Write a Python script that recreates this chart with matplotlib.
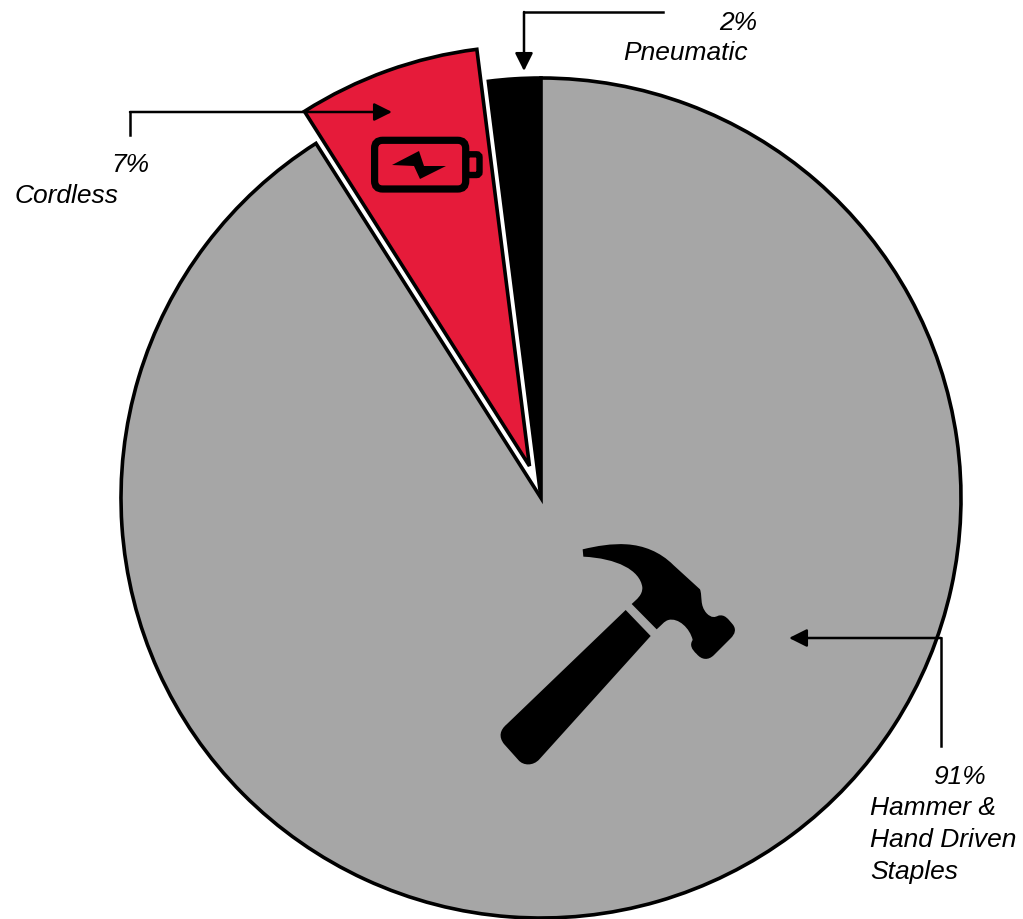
import matplotlib
matplotlib.use("Agg")
import matplotlib.pyplot as plt
from matplotlib.path import Path
from matplotlib.patches import PathPatch, FancyBboxPatch, Polygon

labels = ["Pneumatic", "Cordless", "Hammer & Hand Driven Staples"]
values = [2, 7, 91]
colors = ["#000000", "#E61B3A", "#A6A6A6"]
explode = [0, 34, 0]

W, H = 1023, 919
def Y(y):
    return H - y

fig = plt.figure(figsize=(W / 100, H / 100), dpi=100)
ax = fig.add_axes([0, 0, 1, 1])
ax.pie(values, colors=colors, explode=explode, startangle=90, counterclock=True,
       center=(541, Y(498)), radius=420,
       wedgeprops=dict(edgecolor="black", linewidth=2.6, joinstyle="miter"))
ax.set_xlim(0, W)
ax.set_ylim(0, H)
ax.set_aspect("equal")
ax.axis("off")

# leader lines with arrowheads
def leader(points):
    xs = [p[0] for p in points[:-1]]
    ys = [Y(p[1]) for p in points[:-1]]
    ax.plot(xs, ys, color="black", lw=1.8, solid_joinstyle="miter", zorder=5)
    ax.annotate("", xy=(points[-1][0], Y(points[-1][1])),
                xytext=(points[-2][0], Y(points[-2][1])),
                arrowprops=dict(arrowstyle="-|>,head_length=1.08,head_width=0.54",
                                mutation_scale=10, color="black", lw=1.8,
                                shrinkA=0, shrinkB=0), zorder=5)

leader([(663, 12), (524, 12), (524, 71)])
leader([(130, 135), (130, 112), (392, 112)])
leader([(941, 746), (941, 638), (789, 638)])

# labels
font = dict(family="Liberation Sans", style="italic", size=19, color="black",
            va="baseline", ha="left", zorder=6)
ax.text(719, Y(30), "2%", **font)
ax.text(623, Y(60), "Pneumatic", **font)
ax.text(111, Y(172), "7%", **font)
ax.text(15, Y(203), "Cordless", **font)
ax.text(933, Y(784), "91%", **font)
ax.text(870, Y(815), "Hammer &", **font)
ax.text(870, Y(847), "Hand Driven", **font)
ax.text(870, Y(879), "Staples", **font)

# battery icon
ax.add_patch(FancyBboxPatch((374.6, Y(189)), 91.1, 48.7, boxstyle="round,pad=0,rounding_size=8",
                            fc="none", ec="black", lw=5.2, zorder=5))
ax.add_patch(FancyBboxPatch((466, Y(175)), 13.5, 20.7, boxstyle="round,pad=0,rounding_size=3",
                            fc="none", ec="black", lw=4.6, zorder=5))
bolt = [(392, 165), (419, 151), (424, 166), (446, 166), (420, 179), (414, 166)]
ax.add_patch(Polygon([(x, Y(y)) for x, y in bolt], closed=True, fc="black", ec="none", zorder=5))

# hammer icon (outline traced in zoom-crop coordinates)
def Z(zx, zy):
    return (480 + zx / 3, Y(530 + zy / 3))

def shape(start, segs):
    verts = [Z(*start)]
    codes = [Path.MOVETO]
    for s in segs:
        if len(s) == 1:
            verts.append(Z(*s[0]))
            codes.append(Path.LINETO)
        else:
            for p in s:
                verts.append(Z(*p))
                codes.append(Path.CURVE4)
    verts.append(verts[0])
    codes.append(Path.CLOSEPOLY)
    return Path(verts, codes)

head = shape((308, 58), [
    ((350, 48), (395, 40), (440, 43)),
    ((490, 46), (540, 65), (580, 105)),
    [(660, 178)],
    ((668, 200), (658, 225), (680, 250)),
    ((695, 265), (705, 262), (715, 257)),
    ((735, 252), (745, 268), (758, 283)),
    ((770, 298), (765, 312), (752, 325)),
    [(702, 375)],
    ((685, 392), (665, 390), (650, 372)),
    ((635, 358), (628, 345), (638, 330)),
    ((630, 295), (595, 262), (565, 270)),
    ((552, 274), (545, 285), (530, 298)),
    [(455, 222)],
    ((470, 208), (488, 195), (487, 172)),
    ((480, 120), (410, 85), (310, 80)),
])
handle = shape((437, 240), [
    [(512, 318)],
    [(178, 688)],
    ((160, 708), (130, 708), (115, 690)),
    [(72, 642)],
    ((55, 620), (60, 600), (80, 583)),
])
for p in (head, handle):
    ax.add_patch(PathPatch(p, fc="black", ec="none", zorder=5))

fig.savefig("out.png", dpi=100, facecolor="white")
